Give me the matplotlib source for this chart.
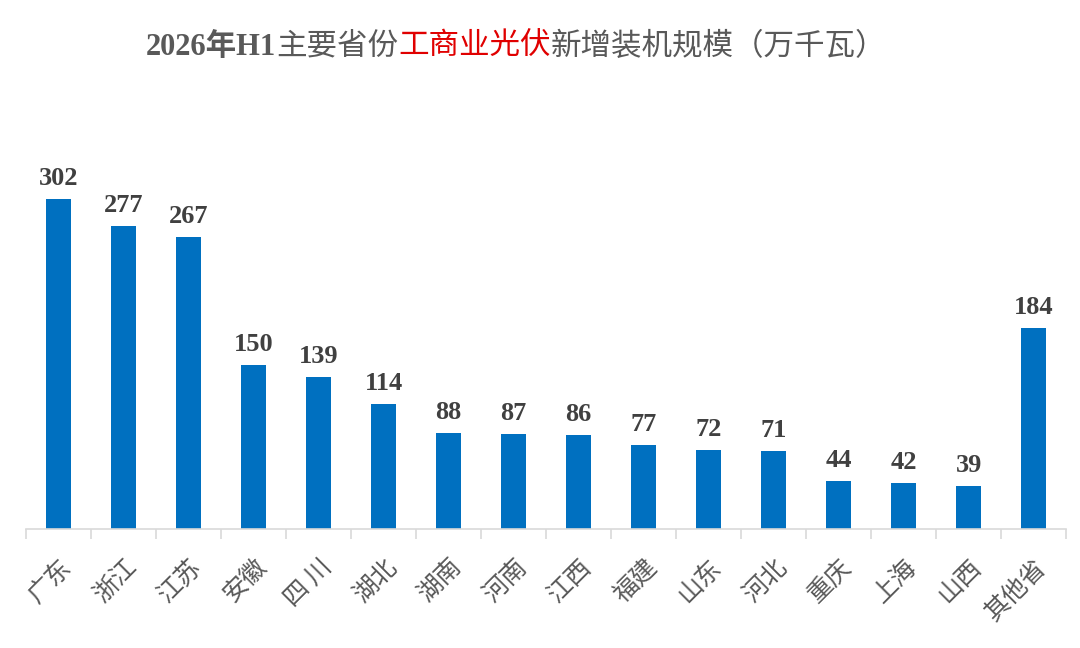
import numpy as np
from matplotlib import pyplot as plt

# 2026年H1 各省工商业光伏新增装机（万千瓦）
provinces = ["广东", "浙江", "江苏", "安徽", "四 川", "湖北", "湖南", "河南",
             "江西", "福建", "山东", "河北", "重庆", "上海", "山西", "其他省"]
capacity = [302, 277, 267, 150, 139, 114, 88, 87, 86, 77, 72, 71, 44, 42, 39, 184]

plt.rcParams['font.family'] = ['Liberation Serif', 'Noto Sans CJK SC', 'DejaVu Sans']

fig = plt.figure(figsize=(10.8, 6.48), dpi=100)
ax = fig.add_axes([0.0241, 0.1836, 0.963, 0.5566])

x = np.arange(len(provinces))
bars = ax.bar(x, capacity, width=0.38, color='#0070C0')

for xi, v in zip(x, capacity):
    ax.text(xi, v + 13, str(v), ha='center', va='baseline', fontsize=19,
            fontweight='bold', color='#404040')

ax.set_xlim(-0.5, len(provinces) - 0.5)
ax.set_ylim(0, 330)
ax.set_yticks([])
for s in ['top', 'right', 'left']:
    ax.spines[s].set_visible(False)
ax.spines['bottom'].set_color('#D9D9D9')
ax.spines['bottom'].set_linewidth(1.2)

ax.set_xticks(x)
ax.set_xticklabels(provinces, rotation=45, ha='right', rotation_mode='anchor',
                   fontsize=18, color='#595959', family=['Noto Sans CJK SC'])
ax.tick_params(axis='x', which='major', length=0, pad=18)
ax.set_xticks(np.arange(-0.5, len(provinces)), minor=True)
ax.tick_params(axis='x', which='minor', length=7, color='#D9D9D9', width=1.2)
for lbl in ax.get_xticklabels():
    lbl.set_x(lbl.get_position()[0])

# title pieces laid out left to right, then centred
renderer = fig.canvas.get_renderer()
pieces = [("2026年H1", '#595959', 'bold'), ("主要省份", '#595959', 'normal'),
          ("工商业光伏", '#E00000', 'normal'), ("新增装机规模（万千瓦）", '#595959', 'normal')]
objs = []
xpos = 0.0
for txt, col, wt in pieces:
    tt = fig.text(xpos, 0.927, txt, fontsize=22, fontweight=wt, color=col,
                  ha='left', va='center')
    bb = tt.get_window_extent(renderer=renderer)
    objs.append((tt, xpos))
    xpos += bb.width / fig.bbox.width
start = 516 / 1080 - xpos / 2
for tt, px in objs:
    tt.set_x(start + px)

plt.savefig('out.png', dpi=100)
plt.close()
